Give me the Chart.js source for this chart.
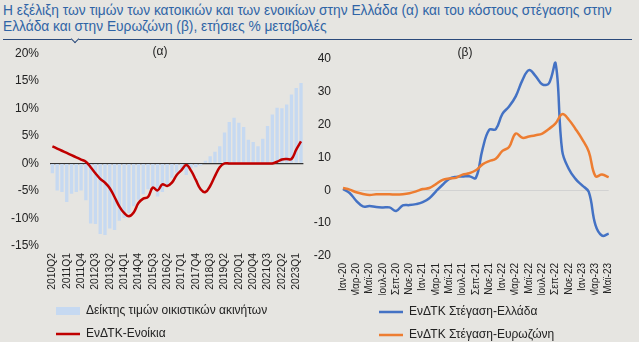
<!DOCTYPE html>
<html>
<head>
<meta charset="utf-8">
<script src="https://cdn.jsdelivr.net/npm/chart.js@4.4.0/dist/chart.umd.min.js"></script>
<style>
  html, body { margin: 0; padding: 0; background: #e6e5e1; width: 639px; height: 342px; overflow: hidden; }
  body { position: relative; font-family: "Liberation Sans", Arial, sans-serif; }
  #title { position: absolute; left: 3px; top: 3px; font-size: 13.75px; line-height: 16px; color: #2f64a6; white-space: nowrap; }
  #rule { position: absolute; left: 3px; top: 39px; width: 629px; height: 0; border-top: 1.5px solid #2b4a7b; }
  #notch { position: absolute; left: 72px; top: 36px; width: 5px; height: 5px; background: #e6e5e1;
           border-right: 1.5px solid #2b4a7b; border-bottom: 1.5px solid #2b4a7b; transform: rotate(45deg); }
  .box { position: absolute; top: 42px; }
  #leftBox { left: 0; width: 318px; height: 308px; }
  #rightBox { left: 310px; width: 329px; height: 309px; }
</style>
</head>
<body>
<div id="title">Η εξέλιξη των τιμών των κατοικιών και των ενοικίων στην Ελλάδα (α) και του κόστους στέγασης στην<br>Ελλάδα και στην Ευρωζώνη (β), ετήσιες % μεταβολές</div>
<div id="rule"></div>
<div id="notch"></div>
<div class="box" id="leftBox"><canvas id="leftChart"></canvas></div>
<div class="box" id="rightBox"><canvas id="rightChart"></canvas></div>
<script>
// (α) quarterly, 2010Q2 - 2023Q2
const quarters = [
    '2010Q2', '2010Q3', '2010Q4',
    '2011Q1', '2011Q2', '2011Q3', '2011Q4',
    '2012Q1', '2012Q2', '2012Q3', '2012Q4',
    '2013Q1', '2013Q2', '2013Q3', '2013Q4',
    '2014Q1', '2014Q2', '2014Q3', '2014Q4',
    '2015Q1', '2015Q2', '2015Q3', '2015Q4',
    '2016Q1', '2016Q2', '2016Q3', '2016Q4',
    '2017Q1', '2017Q2', '2017Q3', '2017Q4',
    '2018Q1', '2018Q2', '2018Q3', '2018Q4',
    '2019Q1', '2019Q2', '2019Q3', '2019Q4',
    '2020Q1', '2020Q2', '2020Q3', '2020Q4',
    '2021Q1', '2021Q2', '2021Q3', '2021Q4',
    '2022Q1', '2022Q2', '2022Q3', '2022Q4',
    '2023Q1', '2023Q2'
];
const housePrices = [
    -1.8, -4.9, -5.2, -7.0, -5.5, -5.2, -4.9, -6.7, -10.9, -11.0,
    -12.8, -13.0, -11.8, -12.1, -10.4, -9.9, -9.0, -7.8, -6.6, -5.6,
    -4.7, -4.2, -6.0, -5.2, -4.1, -2.6, -1.7, -1.0, -2.1, -0.9,
    -0.7, -0.4, 0.5, 1.3, 2.1, 3.1, 5.6, 7.5, 8.3, 7.4,
    6.6, 4.3, 3.9, 3.1, 4.5, 6.8, 8.9, 10.1, 10.0, 10.7,
    12.5, 13.7, 14.6
];
const rents = [
    3.1, 2.7, 2.3, 1.9, 1.5, 1.1, 0.7, 0.3, -0.7, -1.8,
    -2.8, -3.5, -4.5, -6.1, -7.8, -9.0, -9.6, -8.9, -7.2, -6.4,
    -6.1, -4.4, -4.9, -3.8, -4.1, -3.5, -2.1, -1.2, -0.3, -1.3,
    -3.0, -4.7, -5.2, -4.1, -2.3, -0.7, 0, 0, 0, 0,
    0, 0, 0, 0, 0, 0, 0, 0.3, 0.7, 0.8,
    0.8, 2.5, 4.0
];

// (β) monthly, Ιαν-20 - Μαϊ-23
const months = [
    'Ιαν-20', 'Φεβ-20', 'Μαρ-20', 'Απρ-20', 'Μαϊ-20', 'Ιουν-20', 'Ιουλ-20', 'Αυγ-20', 'Σεπ-20', 'Οκτ-20', 'Νοε-20', 'Δεκ-20',
    'Ιαν-21', 'Φεβ-21', 'Μαρ-21', 'Απρ-21', 'Μαϊ-21', 'Ιουν-21', 'Ιουλ-21', 'Αυγ-21', 'Σεπ-21', 'Οκτ-21', 'Νοε-21', 'Δεκ-21',
    'Ιαν-22', 'Φεβ-22', 'Μαρ-22', 'Απρ-22', 'Μαϊ-22', 'Ιουν-22', 'Ιουλ-22', 'Αυγ-22', 'Σεπ-22', 'Οκτ-22', 'Νοε-22', 'Δεκ-22',
    'Ιαν-23', 'Φεβ-23', 'Μαρ-23', 'Απρ-23', 'Μαϊ-23'
];
const housingGreece = [
    0.4, -0.8, -3.2, -4.9, -4.8, -5.1, -5.2, -5.2, -6.3, -4.6, -4.5, -4.2,
    -3.6, -2.4, -0.3, 1.7, 3.5, 4.1, 4.2, 4.3, 3.8, 12.5, 18.4, 18.6,
    23.3, 25.5, 28.6, 33.5, 36.6, 34.8, 32.3, 32.6, 38.7, 12.0, 6.5, 3.5,
    1.5, -0.5, -10.5, -13.8, -13.2
];
const housingEuro = [
    0.7, 0.2, -0.6, -1.1, -1.4, -1.2, -1.2, -1.2, -1.3, -1.2, -0.9, -0.3,
    0.4, 0.7, 1.9, 3.2, 3.6, 3.8, 4.8, 5.2, 6.1, 7.9, 8.9, 9.6,
    12.0, 13.2, 17.3, 16.0, 16.4, 16.8, 17.3, 18.7, 20.4, 23.2, 21.5, 18.7,
    15.6, 11.8, 4.3, 4.8, 4.0
];
const leftTicks = [-15, -10, -5, 0, 5, 10, 15, 20];
const rightTicks = [-20, -10, 0, 10, 20, 30, 40];

Chart.defaults.font.family = '"Liberation Sans", Arial, sans-serif';
Chart.defaults.color = '#222';

// small "(α)" / "(β)" tag drawn over the plot
const panelTag = {
    id: 'panelTag',
    afterDraw(chart, args, opts) {
        const {ctx, chartArea} = chart;
        ctx.save();
        ctx.font = '12px "Liberation Sans", Arial, sans-serif';
        ctx.fillStyle = '#222';
        ctx.textAlign = 'center';
        ctx.textBaseline = 'middle';
        ctx.fillText(opts.text, chartArea.left + opts.fx * chartArea.width, opts.y);
        ctx.restore();
    }
};

// move the legend block to the right so the rows start under the plot
const legendShift = {
    id: 'legendShift',
    afterLayout(chart, args, opts) {
        chart.legend.left = opts.left;
    }
};

function legendOptions() {
    return {
        position: 'bottom',
        align: 'start',
        reverse: true,
        labels: {
            usePointStyle: true,
            pointStyleWidth: 24,
            boxHeight: 8,
            padding: 11,
            color: '#222',
            font: {size: 12}
        }
    };
}

// the plot edges come from layout.padding only
function noEdgePadding(scale) {
    scale.paddingTop = 0;
    scale.paddingBottom = 0;
    scale.paddingLeft = 0;
    scale.paddingRight = 0;
}

new Chart(document.getElementById('leftChart'), {
    type: 'bar',
    data: {
        labels: quarters,
        datasets: [{
            type: 'bar',
            label: 'Δείκτης τιμών οικιστικών ακινήτων',
            data: housePrices,
            backgroundColor: '#c6d9f1',
            borderWidth: 0,
            barPercentage: 0.7,
            categoryPercentage: 1.0,
            pointStyle: 'rect',
            order: 1
        }, {
            type: 'line',
            label: 'ΕνΔΤΚ-Ενοίκια',
            data: rents,
            borderColor: '#c00000',
            backgroundColor: '#c00000',
            borderWidth: 2.5,
            pointRadius: 0,
            tension: 0.4,
            pointStyle: 'line',
            order: 0
        }]
    },
    options: {
        responsive: true,
        maintainAspectRatio: false,
        animation: false,
        layout: {padding: {top: 11.3, right: 14.6, bottom: 0, left: 0}},
        scales: {
            x: {
                grid: {display: false, drawTicks: false},
                border: {display: false},
                ticks: {
                    autoSkip: false,
                    maxRotation: 90,
                    minRotation: 90,
                    padding: 7,
                    font: {size: 10.3},
                    callback(value, index) {
                        return index % 3 === 0 ? this.getLabelForValue(value) : '';
                    }
                },
                afterFit(scale) { scale.height = 48; noEdgePadding(scale); }
            },
            y: {
                min: leftTicks[0],
                max: leftTicks[leftTicks.length - 1],
                afterBuildTicks(scale) { scale.ticks = leftTicks.map(v => ({value: v})); },
                ticks: {padding: 11, font: {size: 12}, callback: v => v + '%'},
                grid: {
                    drawTicks: false,
                    color: ctx => ctx.tick && ctx.tick.value === 0 ? '#333' : 'rgba(0,0,0,0)',
                    lineWidth: 1.2
                },
                border: {display: false},
                afterFit(scale) { scale.width = 50; noEdgePadding(scale); }
            }
        },
        plugins: {
            legend: legendOptions(),
            tooltip: {enabled: false},
            panelTag: {text: '(α)', fx: 0.434, y: 10},
            legendShift: {left: 45}
        }
    },
    plugins: [panelTag, legendShift]
});

new Chart(document.getElementById('rightChart'), {
    type: 'line',
    data: {
        labels: months,
        datasets: [{
            label: 'ΕνΔΤΚ Στέγαση-Ελλάδα',
            data: housingGreece,
            borderColor: '#4472c4',
            backgroundColor: '#4472c4',
            borderWidth: 2.5,
            pointRadius: 0,
            tension: 0.4,
            pointStyle: 'line',
            order: 1
        }, {
            label: 'ΕνΔΤΚ Στέγαση-Ευρωζώνη',
            data: housingEuro,
            borderColor: '#ed7d31',
            backgroundColor: '#ed7d31',
            borderWidth: 2.5,
            pointRadius: 0,
            tension: 0.4,
            pointStyle: 'line',
            order: 0
        }]
    },
    options: {
        responsive: true,
        maintainAspectRatio: false,
        animation: false,
        layout: {padding: {top: 17, right: 30.3, bottom: 0, left: 0}},
        scales: {
            x: {
                grid: {display: false, drawTicks: false},
                border: {display: false},
                ticks: {
                    autoSkip: false,
                    maxRotation: 90,
                    minRotation: 90,
                    padding: 7,
                    font: {size: 10},
                    callback(value, index) {
                        return index % 2 === 0 ? this.getLabelForValue(value) : '';
                    }
                },
                afterFit(scale) { scale.height = 39; noEdgePadding(scale); }
            },
            y: {
                min: rightTicks[0],
                max: rightTicks[rightTicks.length - 1],
                afterBuildTicks(scale) { scale.ticks = rightTicks.map(v => ({value: v})); },
                ticks: {padding: 12, font: {size: 12}},
                grid: {
                    drawTicks: false,
                    color: ctx => ctx.tick && ctx.tick.value === 0 ? '#d2d2d2' : 'rgba(0,0,0,0)',
                    lineWidth: 1
                },
                border: {display: false},
                afterFit(scale) { scale.width = 33; noEdgePadding(scale); }
            }
        },
        plugins: {
            legend: legendOptions(),
            tooltip: {enabled: false},
            panelTag: {text: '(β)', fx: 0.459, y: 11},
            legendShift: {left: 58}
        }
    },
    plugins: [panelTag, legendShift]
});
</script>
</body>
</html>
